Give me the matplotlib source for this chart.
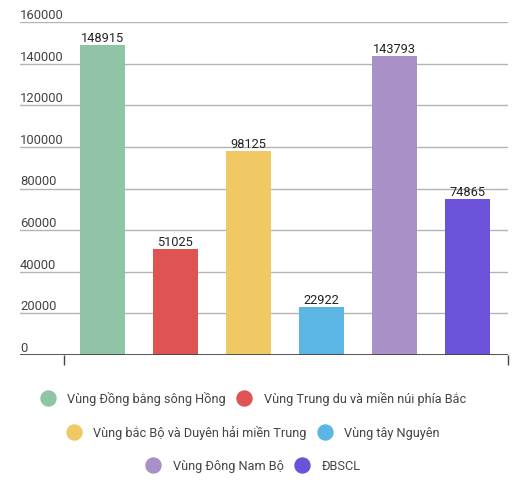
import matplotlib
matplotlib.use("Agg")
import matplotlib.pyplot as plt
from matplotlib.lines import Line2D
import numpy as np

categories = ["Vùng Đồng bằng sông Hồng", "Vùng Trung du và miền núi phía Bắc",
              "Vùng bắc Bộ và Duyên hải miền Trung", "Vùng tây Nguyên",
              "Vùng Đông Nam Bộ", "ĐBSCL"]
values = [148915, 51025, 98125, 22922, 143793, 74865]
colors = ["#8fc4a7", "#df5353", "#f0c965", "#5cb6e4", "#a990c7", "#6b52d9"]
yticks = [0, 20000, 40000, 60000, 80000, 100000, 120000, 140000, 160000]

plt.rcParams['font.family'] = ['Roboto', 'DejaVu Sans']
W, H = 532, 489
fig = plt.figure(figsize=(W / 100, H / 100), dpi=100)
ax = fig.add_axes([20 / W, (H - 356) / H, (508 - 20) / W, (356 - 23) / H])

x = np.arange(len(values))
ax.bar(x, values, width=0.61, color=colors, zorder=2)
ax.set_xlim(-1.126, 5.553)
ax.set_ylim(0, 160000)

for yt in yticks:
    if yt > 0:
        ax.axhline(yt, color="#b4b4b4", lw=1, zorder=1)
    ax.annotate(str(yt), xy=(0, yt), xycoords=ax.get_yaxis_transform(),
                xytext=(0, 0.8), textcoords="offset points", ha="left", va="bottom",
                fontsize=9.4, color="#444444")
ax.axhline(0, color="#444444", lw=2, zorder=3)

for xi, v in zip(x, values):
    ax.annotate(str(v), xy=(xi, v), xytext=(0, 0.6), textcoords="offset points",
                ha="center", va="bottom", fontsize=9.2, color="#222222")

for s in ax.spines.values():
    s.set_visible(False)
ax.set_yticks([])
ax.set_xticks([-0.52, 5.55])
ax.set_xticklabels([])
ax.tick_params(axis="x", length=7, width=1, color="#444444", direction="out")

handles = [Line2D([], [], marker="o", ls="none", markersize=10.8,
                  markerfacecolor=c, markeredgecolor=c) for c in colors]
rows_y = [399, 433, 467]
for r in range(3):
    fig.legend(handles[2 * r:2 * r + 2], categories[2 * r:2 * r + 2], ncol=2,
               loc="center", bbox_to_anchor=(253 / W, 1 - rows_y[r] / H),
               frameon=False, fontsize=9.2, handlelength=1.2, handletextpad=0.9,
               columnspacing=0.86, labelcolor="#444444", borderpad=0, borderaxespad=0)

fig.savefig("out.png", dpi=100)
